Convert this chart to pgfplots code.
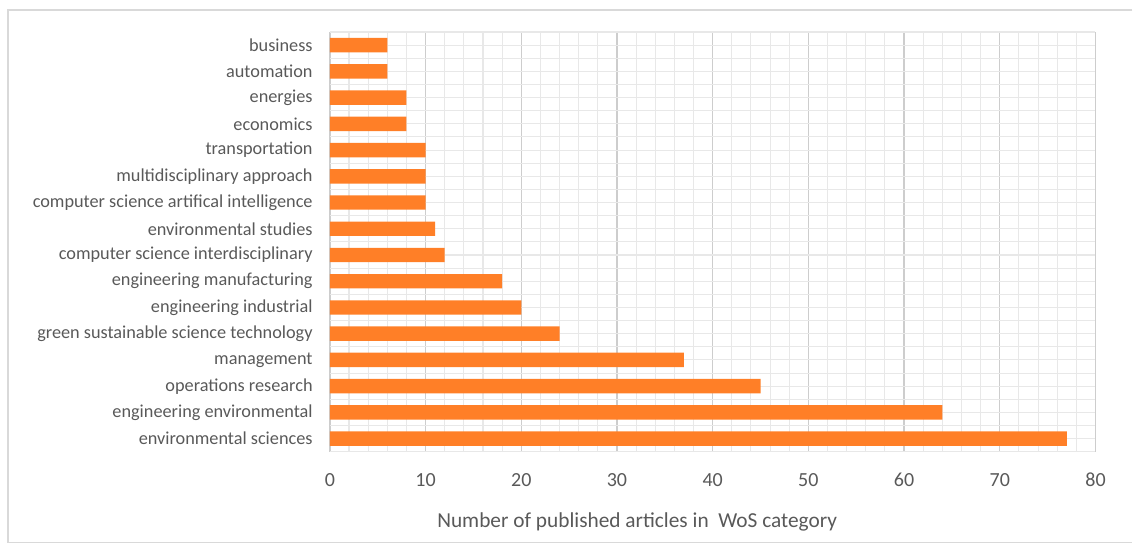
\documentclass[border=0pt]{standalone}
\usepackage{pgfplots}
\pgfplotsset{compat=1.18}
\usepackage{fontspec}
\setmainfont{Carlito}
\definecolor{barorange}{RGB}{255,127,39}
\definecolor{txt}{RGB}{89,89,89}
\definecolor{majgrid}{RGB}{205,205,205}
\definecolor{mingrid}{RGB}{232,232,232}
\begin{document}
\begin{tikzpicture}
\path (0,0) rectangle (849.75pt,408.75pt);
\draw[color={rgb,255:red,217;green,217;blue,217}, line width=0.8pt] (849.75pt,401.25pt) -- (6pt,401.25pt) -- (6pt,1.5pt) -- (849.75pt,1.5pt);
\begin{axis}[
  at={(247.5pt,69.75pt)}, anchor=south west,
  scale only axis, width=574.5pt, height=315pt,
  xbar, bar width=0.55,
  xmin=0, xmax=80, ymin=-0.5, ymax=15.5,
  xtick={0,10,...,80},
  minor x tick num=4,
  ytick={0,...,15},
  yticklabels={environmental sciences, engineering environmental, operations research, management, green sustainable science technology, engineering industrial, engineering manufacturing, computer science interdisciplinary, environmental studies, computer science artifical intelligence, multidisciplinary approach, transportation, economics, energies, automation, business},
  extra y ticks={-0.5,0.5,...,15.5},
  extra y tick labels={},
  extra y tick style={grid=major, major grid style={mingrid, line width=0.8pt}},
  xmajorgrids, xminorgrids, ymajorgrids,
  major x grid style={majgrid, line width=1pt},
  minor x grid style={mingrid, line width=0.8pt},
  major y grid style={mingrid, line width=0.8pt},
  axis line style={draw=none},
  major tick length=0pt, minor tick length=0pt,
  tick style={draw=none},
  /pgf/number format/assume math mode=true,
  xticklabel style={font=\fontsize{15}{17}\selectfont, text=txt, anchor=center, inner sep=0pt, yshift=-21pt},
  yticklabel style={font=\fontsize{13.7}{16}\selectfont, text=txt, anchor=east, inner sep=0pt, xshift=-12.75pt},
  xlabel={Number of published articles in \ WoS category},
  xlabel style={font=\fontsize{16}{18}\selectfont, text=txt, at={(rel axis cs:0.4014,0)}, anchor=center, yshift=-52.5pt},
]
\addplot[fill=barorange, draw=none] coordinates {
(77,0) (64,1) (45,2) (37,3) (24,4) (20,5) (18,6) (12,7) (11,8) (10,9) (10,10) (10,11) (8,12) (8,13) (6,14) (6,15)
};
\end{axis}
\end{tikzpicture}
\end{document}
